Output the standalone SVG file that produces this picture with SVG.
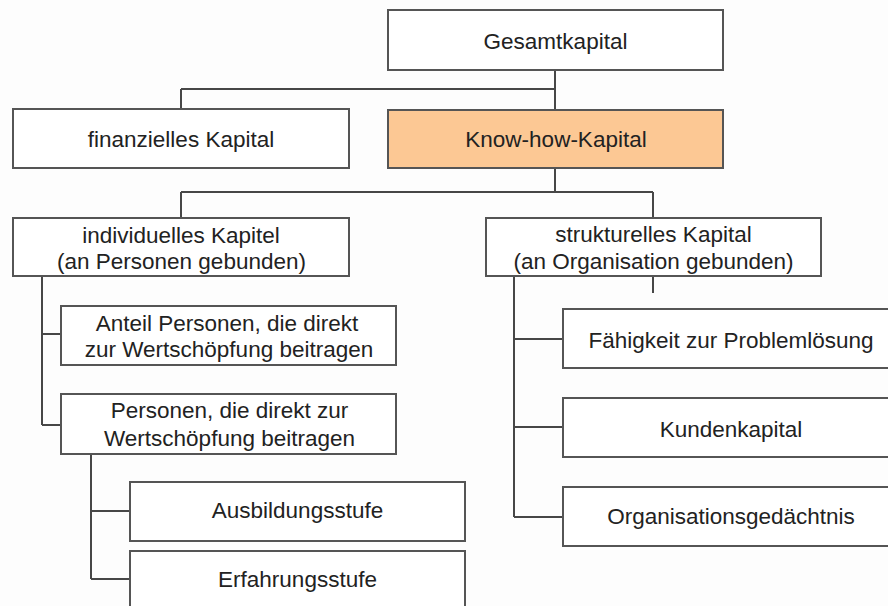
<svg xmlns="http://www.w3.org/2000/svg" width="888" height="606" viewBox="0 0 888 606">
<style>
.box{fill:#ffffff;stroke:#555555;stroke-width:2}
.hl{fill:#fcc894}
.lbl{font-family:"Liberation Sans",Arial,sans-serif;font-size:22.5px;fill:#222222;text-anchor:middle}
.con{fill:none;stroke:#474747;stroke-width:2}
</style>
<rect width="888" height="606" fill="#fdfdfd"/>
<g id="connectors">
<path class="con" d="M555,70 V110 M181,89 H555 M181,89 V109"/>
<path class="con" d="M555,168 V192 M181,192 H653 M181,192 V218 M653,192 V218"/>
<path class="con" d="M42,276 V425 M42,334 H61 M42,425 H61"/>
<path class="con" d="M91,454 V579 M91,511 H130 M91,579 H130"/>
<path class="con" d="M514,276 V517 M514,339 H563 M514,427 H563 M514,517 H563"/>
<path class="con" d="M653,276 V293"/>
</g>
<g id="gesamtkapital">
<rect class="box" x="388" y="10" width="335" height="60"/>
<text class="lbl" x="555.5" y="49">Gesamtkapital</text>
</g>
<g id="finanzielles">
<rect class="box" x="13" y="109" width="336" height="59"/>
<text class="lbl" x="181" y="147">finanzielles Kapital</text>
</g>
<g id="knowhow">
<rect class="box hl" x="388" y="110" width="335" height="58"/>
<text class="lbl" x="556" y="147">Know-how-Kapital</text>
</g>
<g id="individuelles">
<rect class="box" x="13" y="218" width="336" height="58"/>
<text class="lbl" x="181" y="243">individuelles Kapitel</text>
<text class="lbl" x="181.5" y="269">(an Personen gebunden)</text>
</g>
<g id="strukturelles">
<rect class="box" x="486" y="218" width="335" height="58"/>
<text class="lbl" x="653.5" y="242">strukturelles Kapital</text>
<text class="lbl" x="653.5" y="269">(an Organisation gebunden)</text>
</g>
<g id="anteil">
<rect class="box" x="61" y="306" width="335" height="59"/>
<text class="lbl" x="227" y="331">Anteil Personen, die direkt</text>
<text class="lbl" x="229" y="357">zur Wertschöpfung beitragen</text>
</g>
<g id="personen">
<rect class="box" x="61" y="394" width="335" height="60"/>
<text class="lbl" x="229.5" y="418">Personen, die direkt zur</text>
<text class="lbl" x="229.5" y="446">Wertschöpfung beitragen</text>
</g>
<g id="ausbildung">
<rect class="box" x="130" y="482" width="335" height="59"/>
<text class="lbl" x="297.5" y="518">Ausbildungsstufe</text>
</g>
<g id="erfahrung">
<rect class="box" x="130" y="551" width="335" height="70"/>
<text class="lbl" x="297.5" y="587">Erfahrungsstufe</text>
</g>
<g id="faehigkeit">
<rect class="box" x="563" y="309" width="336" height="59"/>
<text class="lbl" x="731" y="348">Fähigkeit zur Problemlösung</text>
</g>
<g id="kunden">
<rect class="box" x="563" y="398" width="336" height="59"/>
<text class="lbl" x="731" y="437">Kundenkapital</text>
</g>
<g id="organisation">
<rect class="box" x="563" y="487" width="336" height="59"/>
<text class="lbl" x="731" y="524">Organisationsgedächtnis</text>
</g>
</svg>
